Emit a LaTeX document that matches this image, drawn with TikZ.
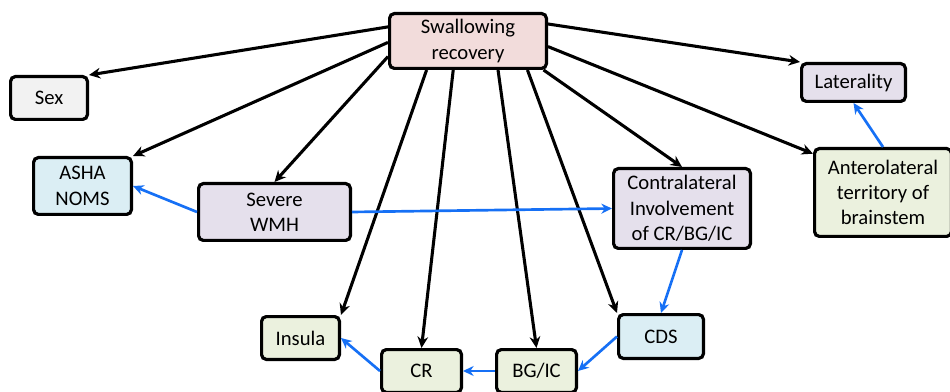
\documentclass[tikz,border=0pt]{standalone}
\usepackage{fontspec}
\setmainfont{Carlito}
\usetikzlibrary{arrows.meta}
\definecolor{cpink}{RGB}{242,220,219}
\definecolor{cgray}{RGB}{242,242,242}
\definecolor{clav}{RGB}{229,224,236}
\definecolor{cblue}{RGB}{219,238,244}
\definecolor{colive}{RGB}{235,241,222}
\definecolor{arrowblue}{RGB}{22,112,245}
\begin{document}
\begin{tikzpicture}[x=0.75pt,y=-0.75pt,
  box/.style={draw=black, line width=2.4pt, rounded corners=3.5pt, align=center,
    font=\fontsize{15.5}{19}\selectfont, inner sep=0pt},
  sz/.style 2 args={minimum width=#1*0.75pt-2.4pt, minimum height=#2*0.75pt-2.4pt},
  blk/.style={draw=black, line width=2.3pt, -{Stealth[length=8.5pt,width=8pt]}},
  blu/.style={draw=arrowblue, line width=2pt, -{Stealth[length=8pt,width=7.5pt]}}]
\useasboundingbox (0,0) rectangle (950,392);

\node[box, fill=cpink, sz={160}{58}] (sr) at (468,41) {Swallowing\\recovery};
\node[box, fill=cgray, sz={80}{46}] (sex) at (49,98) {Sex};
\node[box, fill=clav, sz={107}{41}] (lat) at (853.5,82.5) {Laterality};
\node[box, fill=cblue, sz={101}{60}] (asha) at (82.5,186) {ASHA\\NOMS};
\node[box, fill=clav, sz={155}{60}] (wmh) at (274.5,212) {Severe\\WMH};
\node[box, fill=clav, sz={140}{83}] (contra) at (682,208.5) {Contralateral\\Involvement\\of CR/BG/IC};
\node[box, fill=colive, sz={140}{91}] (antero) at (883,192.5) {Anterolateral\\territory of\\brainstem};
\node[box, fill=colive, sz={81}{46}] (insula) at (300.5,338) {Insula};
\node[box, fill=colive, sz={83}{46}] (cr) at (421.5,371) {CR};
\node[box, fill=colive, sz={83}{46}] (bgic) at (536.5,371) {BG/IC};
\node[box, fill=cblue, sz={88}{47}] (cds) at (661,336.5) {CDS};

% black arrows from Swallowing recovery
\draw[blk] (sr.170) -- (sex.north east);
\draw[blk] (sr.181) -- (asha.north east);
\draw[blk] (sr.191) -- (wmh.north);
\draw[blk] (sr.215) -- (insula.north east);
\draw[blk] (sr.243) -- (cr.north);
\draw[blk] (sr.316) -- (bgic.north);
\draw[blk] (sr.334) -- (cds.north west);
\draw[blk] (sr.339.5) -- (contra.north);
\draw[blk] (sr.356.4) -- (antero.151);
\draw[blk] (sr.12) -- (lat.north west);

% blue arrows
\draw[blu] (wmh.west) -- (asha.east);
\draw[blu] (wmh.east) -- (contra.west);
\draw[blu] (contra.south) -- (cds.north);
\draw[blu] (antero.north) -- (lat.south);
\draw[blu] (cds.west) -- (bgic.east);
\draw[blu] (bgic.west) -- (cr.east);
\draw[blu] (cr.west) -- (insula.east);
\end{tikzpicture}
\end{document}
